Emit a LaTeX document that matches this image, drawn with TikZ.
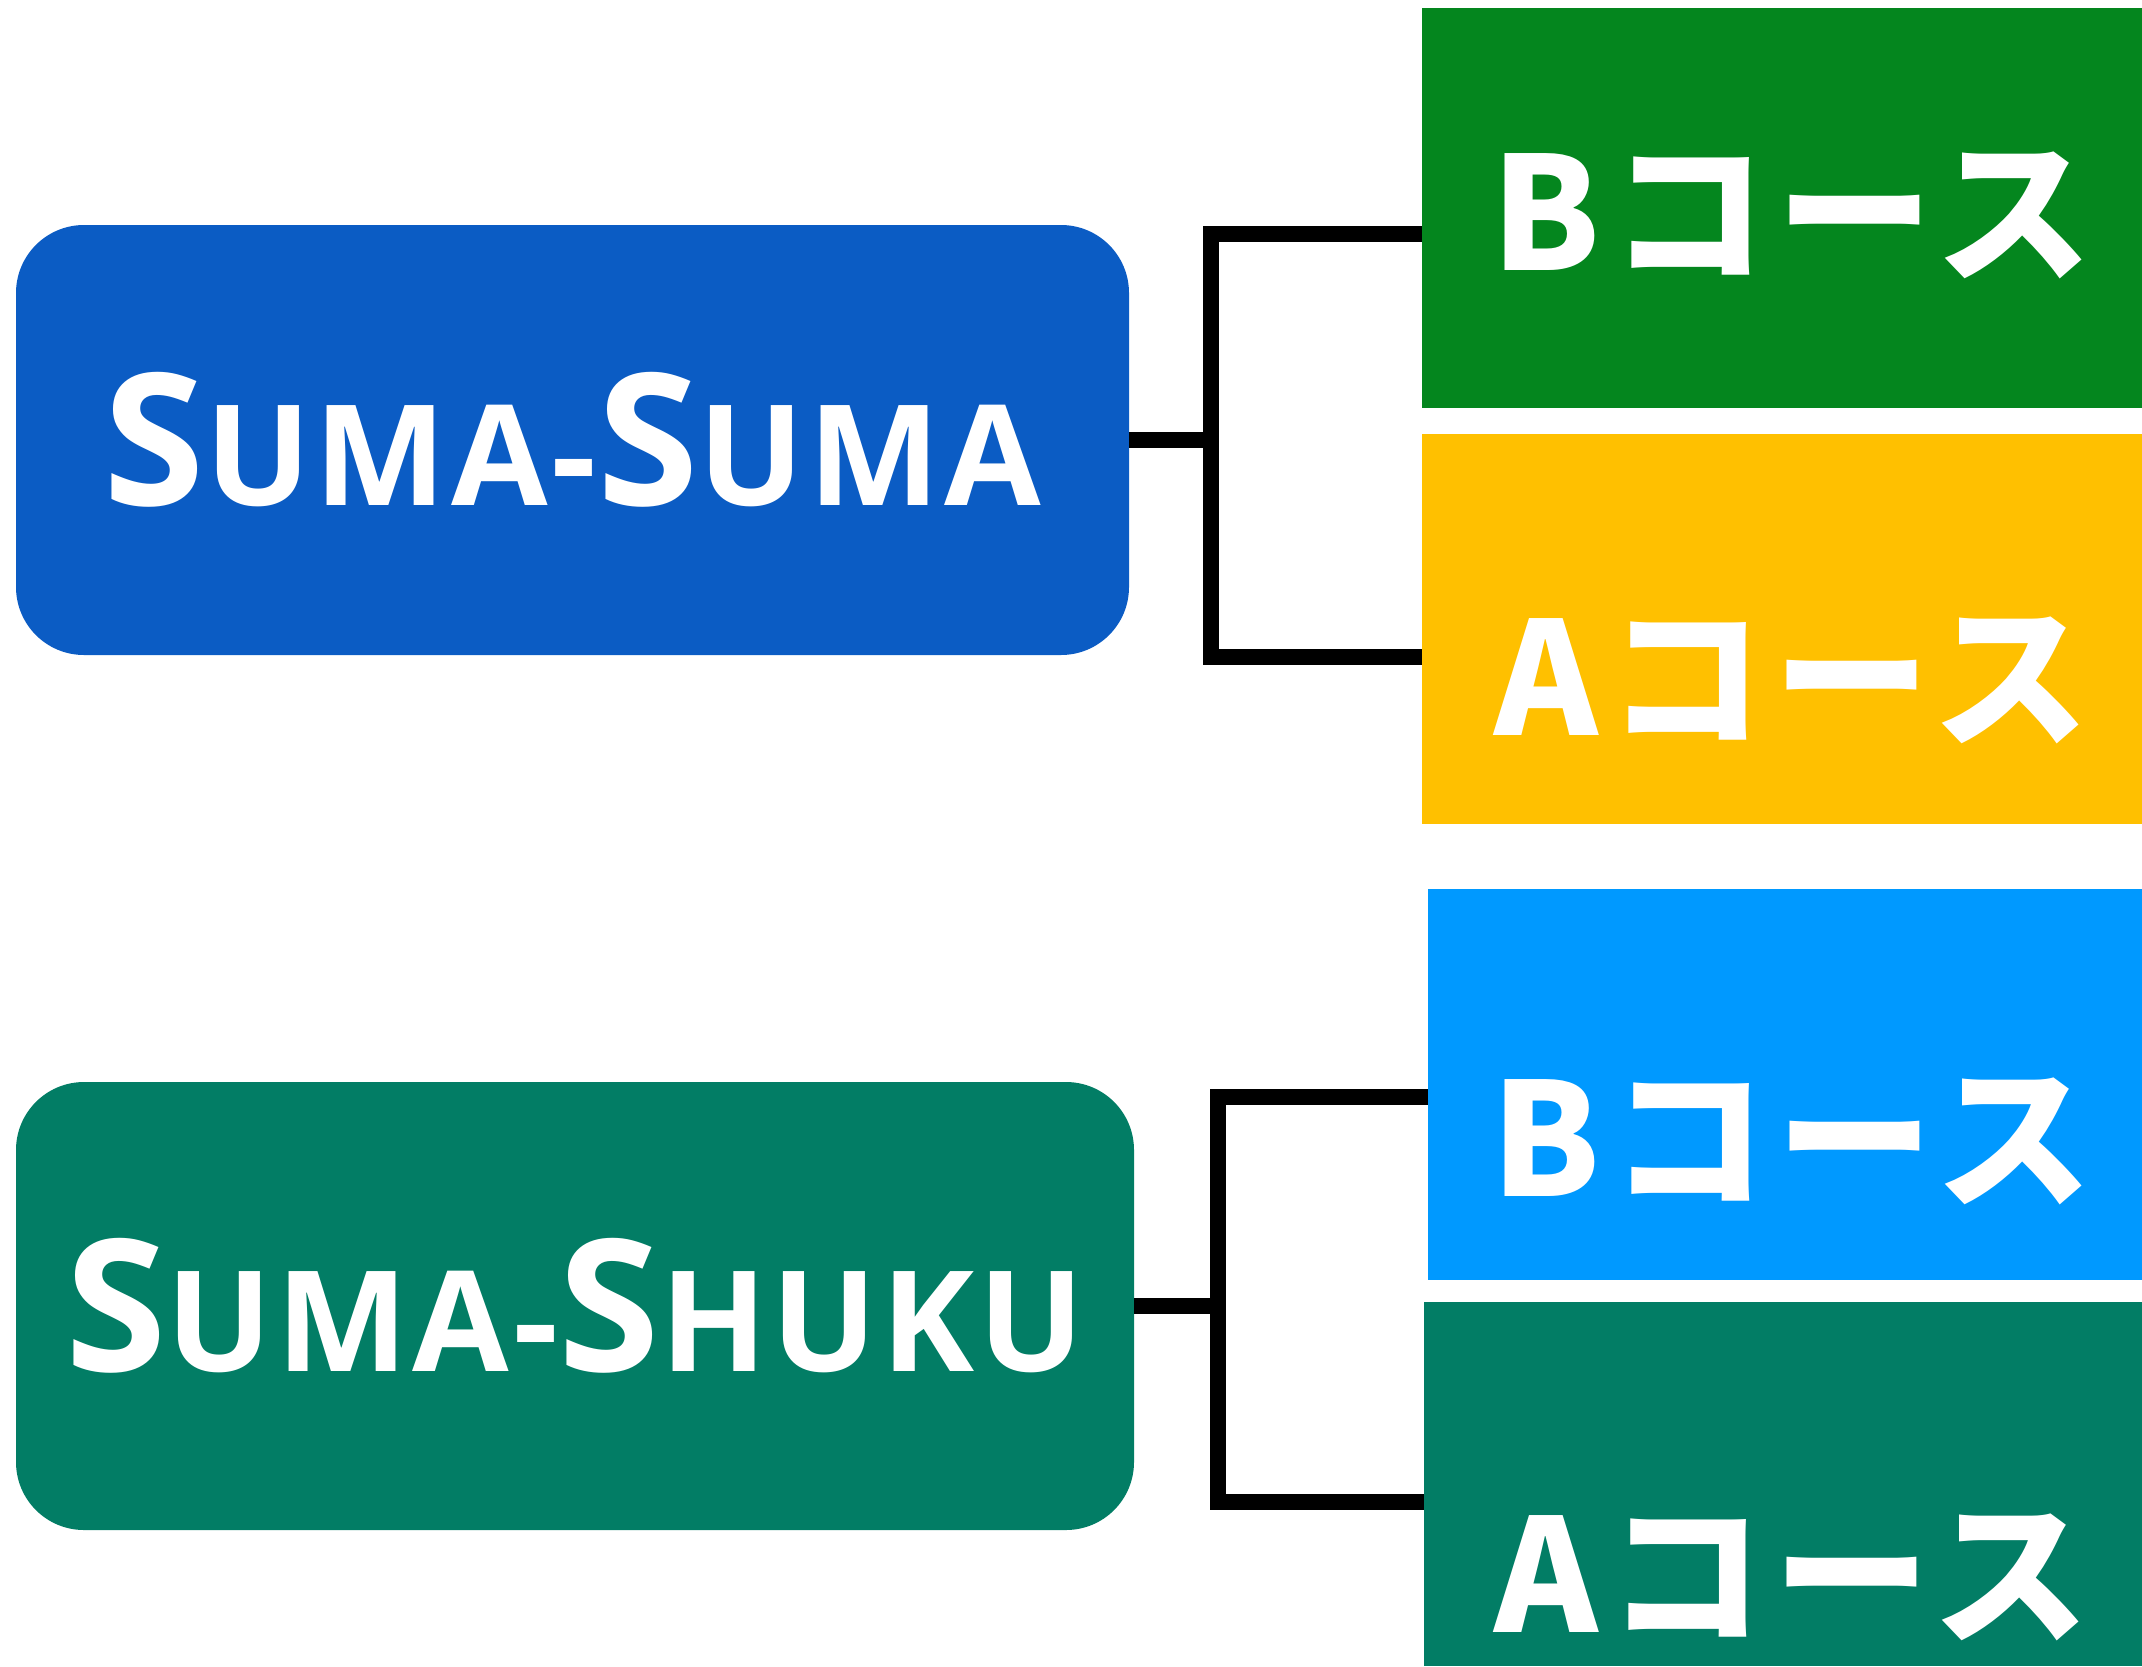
\documentclass[tikz,border=0pt]{standalone}
\usepackage{fontspec}
\setmainfont{Open Sans}
\newfontfamily\jpfont[LetterSpace=6]{Noto Sans CJK JP}
\definecolor{sumablue}{RGB}{11,92,196}
\definecolor{shukuteal}{RGB}{2,125,101}
\definecolor{bgreen}{RGB}{4,134,30}
\definecolor{ayellow}{RGB}{255,192,0}
\definecolor{bsky}{RGB}{0,153,255}
\newcommand{\capword}[2]{{\fontsize{92pt}{100pt}\selectfont #1}{\fontsize{70pt}{80pt}\selectfont #2}}

\begin{document}
\begin{tikzpicture}[x=0.5pt, y=-0.5pt,
    namebox/.style={rectangle, rounded corners=34pt, inner sep=0pt, text=white, font=\bfseries\addfontfeatures{LetterSpace=3}},
    coursebox/.style={rectangle, inner sep=0pt},
    coursetext/.style={text=white, inner sep=0pt, font=\jpfont\bfseries\fontsize{78.5pt}{80pt}\selectfont},
    link/.style={line width=8pt, black}]
    \useasboundingbox (0,0) rectangle (2142,1666);

    % Boxes for the two names
    \node[namebox, fill=sumablue, minimum width=556.5pt, minimum height=215pt] (suma) at (572.5,440) {\capword{S}{UMA-}\capword{S}{UMA}};
    \node[namebox, fill=shukuteal, minimum width=559pt, minimum height=224pt] (shuku) at (575,1306) {\capword{S}{UMA-}\capword{S}{HUKU}};

    % Boxes for the courses
    \node[coursebox, fill=bgreen, minimum width=360pt, minimum height=200pt] (b1) at (1782,208) {};
    \node[coursebox, fill=ayellow, minimum width=360pt, minimum height=195pt] (a1) at (1782,629) {};
    \node[coursebox, fill=bsky, minimum width=357pt, minimum height=195.5pt] (b2) at (1785,1084.5) {};
    \node[coursebox, fill=shukuteal, minimum width=359pt, minimum height=182pt] (a2) at (1783,1484) {};

    \node[coursetext] (tb1) at (1792,215) {Bコース};
    \node[coursetext] (ta1) at (1792,680) {Aコース};
    \node[coursetext] (tb2) at (1792,1141) {Bコース};
    \node[coursetext] (ta2) at (1792,1577) {Aコース};

    % Links
    \coordinate (j1) at (1211,440);
    \coordinate (j2) at (1218,1306);
    \draw[link] (suma.east) -- (j1);
    \draw[link] (b1.west |- 0,234) -| (j1) |- (a1.west |- 0,657);
    \draw[link] (shuku.east) -- (j2);
    \draw[link] (b2.west |- 0,1097) -| (j2) |- (a2.west |- 0,1502);
\end{tikzpicture}
\end{document}
